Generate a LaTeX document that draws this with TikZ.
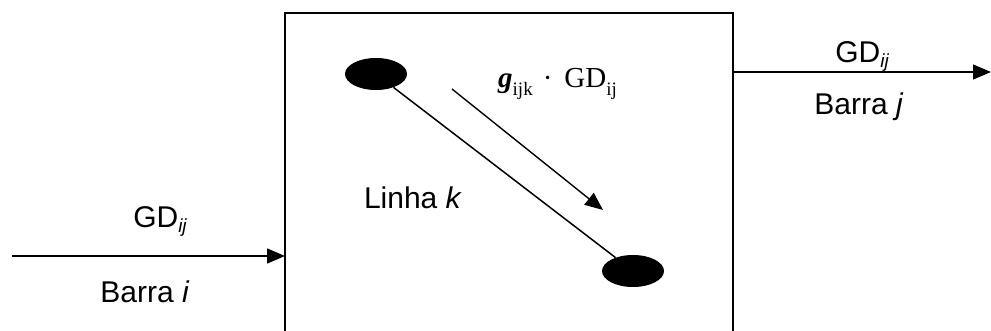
\documentclass[tikz,border=0pt]{standalone}
\usepackage{fontspec}
\setmainfont{Liberation Sans}
\newfontfamily\timesfont{Liberation Serif}
\usetikzlibrary{positioning,arrows.meta,shapes.geometric}

\begin{document}
\begin{tikzpicture}[
    x=1pt, y=-1pt,
    flow/.style = {line width=1.4pt, -{Triangle[length=18pt,width=15pt]}},
    bus/.style = {ellipse, fill=black, minimum width=62pt, minimum height=32pt, inner sep=0pt},
    lbl/.style = {font=\fontsize{30}{34}\selectfont, inner sep=0pt, anchor=base},
    sub/.style = {font=\fontsize{19}{19}\selectfont\itshape}
]
\useasboundingbox (0,0) rectangle (991,331);

% --- Line box (open at the bottom) ---
\coordinate (boxBL) at (285,331);
\coordinate (boxTL) at (285,13);
\coordinate (boxTR) at (733,13);
\coordinate (boxBR) at (733,331);
\draw[line width=1.8pt] (boxBL) -- (boxTL) -- (boxTR) -- (boxBR);

% --- Buses at both ends of the line ---
\node[bus] (busi) at (376,74) {};
\node[bus] (busj) at (633,271) {};
\draw[line width=1.5pt] (busi) -- (busj);

% --- Flow in and out ---
\coordinate (inStart) at (12,256);
\coordinate (inEnd) at (285,256);
\coordinate (outStart) at (733,72);
\coordinate (outEnd) at (991,72);
\draw[flow] (inStart) -- (inEnd);
\draw[flow] (outStart) -- (outEnd);

% --- Share of flow carried by line k ---
\coordinate (shareStart) at (452,89);
\coordinate (shareEnd) at (603,210);
\draw[flow] (shareStart) -- (shareEnd);
\node[inner sep=0pt, anchor=base west, font=\timesfont\fontsize{29}{32}\selectfont] (share) at (498,88)
    {{\bfseries\itshape g}\raisebox{-8pt}{\fontsize{19}{19}\selectfont ijk}\hspace{10pt}·\hspace{12pt}GD\raisebox{-8pt}{\fontsize{19}{19}\selectfont ij}};

% --- Labels ---
\node[lbl] (gdin) at (160,228) {GD\raisebox{-5pt}{\fontsize{19}{19}\selectfont\itshape ij}};
\node[lbl] (barrai) at (145,302) {Barra \textit{i}};
\node[lbl] (gdout) at (862,63) {GD\raisebox{-5pt}{\fontsize{19}{19}\selectfont\itshape ij}};
\node[lbl] (barraj) at (859,115) {Barra \textit{j}};
\node[lbl] (linha) at (413,209) {Linha \textit{k}};

\end{tikzpicture}
\end{document}
